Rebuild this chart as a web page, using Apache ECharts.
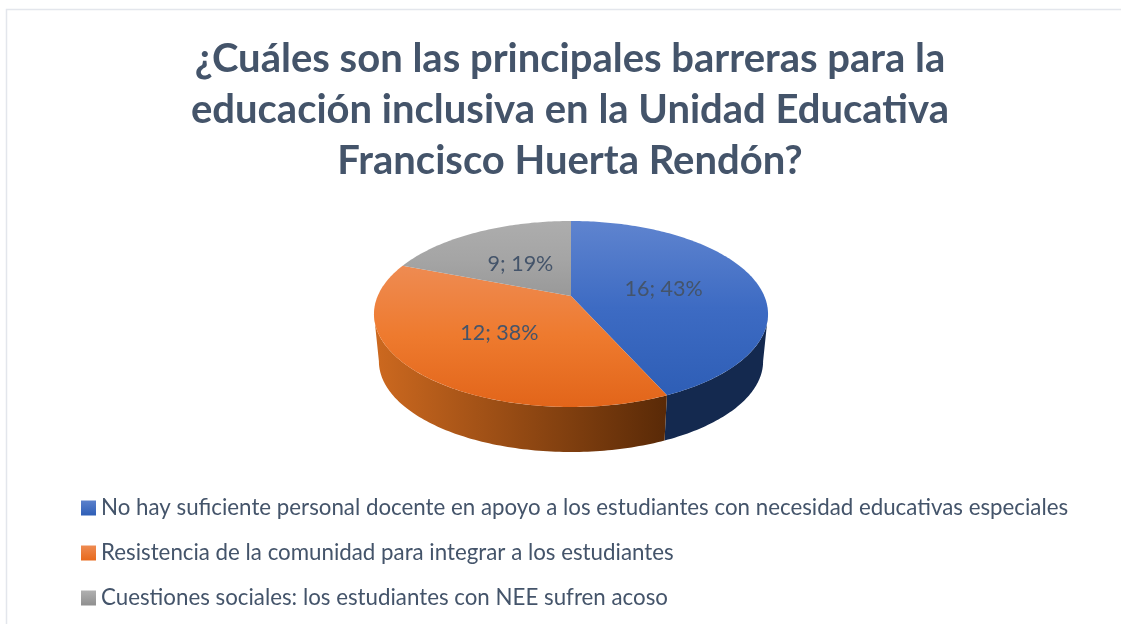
<!DOCTYPE html>
<html>
<head>
<meta charset="utf-8">
<style>html,body{margin:0;padding:0;background:#fff}#c{width:1121px;height:624px}</style>
<script src="https://cdn.jsdelivr.net/npm/echarts@6/dist/echarts.min.js"></script>
</head>
<body>
<div id="c"></div>
<script>
const titleText = '¿Cuáles son las principales barreras para la\neducación inclusiva en la Unidad Educativa\nFrancisco Huerta Rendón?';
const categories = [
  'No hay suficiente personal docente en apoyo a los estudiantes con necesidad educativas especiales',
  'Resistencia de la comunidad para integrar a los estudiantes',
  'Cuestiones sociales: los estudiantes con NEE sufren acoso'
];
const counts = [16, 12, 9];
const percents = [43.3, 37.6, 19.1];

const textColor = '#44546a';
const fontFamily = 'Lato, "Noto Sans", sans-serif';
const topStops = [
  ['#5f84cf', '#3d6bc3', '#2e5eb6'],
  ['#ee8b52', '#ee7a2e', '#e2651a'],
  ['#adadad', '#a5a5a5', '#999999']
];
const sideStops = [
  ['#14294f', '#14294f'],
  ['#cb681f', '#5a2a07'],
  ['#6b6b6b', '#6b6b6b']
];
const legendStops = [
  ['#5a80cc', '#2e5eb6'],
  ['#ee8b52', '#e8691c'],
  ['#b0b0b0', '#8f8f8f']
];

// Perspective projection of the tilted disc
const disc = {cx: 571, cy: 296, a: 193.3, b: 89.5, p: 0.1935};
const base = {cy: 343.8, s: 0.975};
// The disc's side wall is visible only between its left and right silhouette points
const wallFrom = Math.acos(-disc.p);
const wallTo = Math.PI * 2 - wallFrom;

function project(theta, r, cy, s) {
  const u = r * Math.sin(theta), v = r * Math.cos(theta), w = 1 + disc.p * v;
  return [disc.cx + s * disc.a * u / w, cy - s * disc.b * v / w];
}
function rim(t0, t1, cy, s) {
  const n = Math.max(2, Math.ceil((t1 - t0) / (Math.PI / 180)));
  const pts = [];
  for (let i = 0; i <= n; i++) pts.push(project(t0 + (t1 - t0) * i / n, 1, cy, s));
  return pts;
}
function grad(x, y, x2, y2, stops) {
  return {
    type: 'linear', x, y, x2, y2, global: true,
    colorStops: stops.map((c, i) => ({offset: i / (stops.length - 1), color: c}))
  };
}
const total = percents.reduce((a, b) => a + b, 0);

function sliceSeries(idx) {
  const before = percents.slice(0, idx).reduce((a, b) => a + b, 0);
  const t0 = before / total * Math.PI * 2;
  const t1 = (before + percents[idx]) / total * Math.PI * 2;
  return {
    type: 'custom',
    name: categories[idx],
    coordinateSystem: 'none',
    silent: true,
    animation: false,
    itemStyle: {color: {type: 'linear', x: 0, y: 0, x2: 0, y2: 1, colorStops: [
      {offset: 0, color: legendStops[idx][0]}, {offset: 1, color: legendStops[idx][1]}]}},
    data: [[counts[idx], percents[idx]]],
    renderItem: function (params, api) {
      const c = api.value(0), pc = Math.round(api.value(1));
      const topRim = rim(t0, t1, disc.cy, 1);
      const face = [[disc.cx, disc.cy]].concat(topRim);
      const ys = face.map(q => q[1]);
      const lab = project((t0 + t1) / 2, 0.5, disc.cy, 1);
      const children = [];
      const w0 = Math.max(t0, wallFrom), w1 = Math.min(t1, wallTo);
      if (w1 > w0) {
        const wallTop = rim(w0, w1, disc.cy, 1);
        const wallLow = rim(w0, w1, base.cy, base.s);
        const xs = wallLow.map(q => q[0]);
        children.push({
          type: 'polygon', z2: 1,
          shape: {points: wallTop.concat(wallLow.slice().reverse())},
          style: {fill: grad(Math.min.apply(null, xs), 0, Math.max.apply(null, xs), 0, sideStops[idx])}
        });
      }
      children.push({
        type: 'polygon', z2: 2,
        shape: {points: face},
        style: {fill: grad(0, Math.min.apply(null, ys), 0, Math.max.apply(null, ys), topStops[idx])}
      });
      children.push({
        type: 'text', z2: 3,
        x: lab[0], y: lab[1] + 2,
        style: {
          text: c + '; ' + pc + '%',
          fill: textColor,
          font: '21.5px ' + fontFamily,
          align: 'center', verticalAlign: 'middle'
        }
      });
      return {type: 'group', children: children};
    }
  };
}

const chart = echarts.init(document.getElementById('c'), null, {renderer: 'canvas'});
chart.setOption({
  backgroundColor: '#ffffff',
  animation: false,
  title: {
    text: titleText,
    left: 565, top: 29,
    textAlign: 'center',
    textStyle: {
      color: textColor, fontFamily: fontFamily, fontWeight: 'bold',
      fontSize: 40, lineHeight: 51
    }
  },
  legend: {
    orient: 'vertical',
    left: 76, top: 491,
    itemWidth: 15, itemHeight: 15, itemGap: 21,
    selectedMode: false,
    icon: 'rect',
    data: categories,
    textStyle: {color: textColor, fontFamily: fontFamily, fontSize: 22.3, lineHeight: 24}
  },
  graphic: [{
    type: 'rect', silent: true,
    shape: {x: 6.5, y: 9.5, width: 1300, height: 800},
    style: {fill: 'none', stroke: '#e3e6ec', lineWidth: 1.5}
  }],
  series: categories.map((_, i) => sliceSeries(i))
});
</script>
</body>
</html>
